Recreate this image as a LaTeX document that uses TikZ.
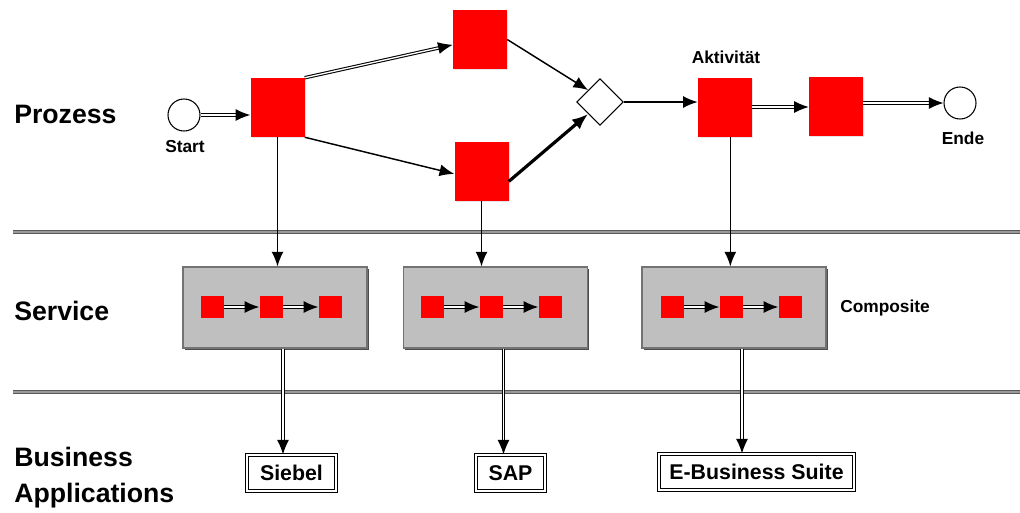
\documentclass[tikz,border=0pt]{standalone}
\usepackage{fontspec}
\setmainfont{Liberation Sans}
\usetikzlibrary{arrows.meta,shapes.geometric,shadows}

\tikzset{
  lbl/.style={inner sep=0pt, font=\fontsize{20}{27}\selectfont\bfseries},
  small/.style={inner sep=0pt, font=\fontsize{13}{15}\selectfont\bfseries},
  task/.style={fill=red, inner sep=0pt, minimum width=40.5pt, minimum height=44.25pt,
    drop shadow={shadow xshift=0.8pt, shadow yshift=-0.8pt, fill=black!20}},
  sq/.style={fill=red, inner sep=0pt, minimum width=17.25pt, minimum height=16.5pt},
  event/.style={circle, draw, line width=0.8pt, fill=white, minimum size=24pt, inner sep=0pt},
  gate/.style={diamond, draw, line width=0.8pt, fill=white, aspect=1, minimum size=35pt, inner sep=0pt},
  svc/.style={fill=black!25, draw=black!55, line width=0.8pt, minimum width=138pt, minimum height=60.75pt,
    drop shadow={shadow xshift=1.2pt, shadow yshift=-1.2pt, fill=black!70, opacity=1}},
  app/.style={draw, double, double distance=1.2pt, line width=0.8pt, fill=white, minimum height=27pt,
    inner sep=0pt, font=\fontsize{16}{18}\selectfont\bfseries},
  lane/.style={draw=black!65, double=black!40, double distance=1.2pt, line width=0.8pt},
  flow/.style={-{Latex[length=11pt,width=9pt]}, line width=1.1pt},
  dflow/.style={-{Latex[length=11pt,width=9pt]}, double, double distance=1pt, line width=0.8pt},
}

\begin{document}
\begin{tikzpicture}[x=0.75pt,y=0.75pt,yscale=-1,xscale=1]
\useasboundingbox (0,0) rectangle (1020,512);

\draw[lane] (13,232) -- (1020,232);
\draw[lane] (13,392) -- (1020,392);

\node[lbl, anchor=west] (prozess) at (14,114) {Prozess};
\node[lbl, anchor=west] (service) at (14,311) {Service};
\node[lbl, anchor=west, align=left] (business) at (14,478) {Business\\Applications};

% prozess
\node[event] (start) at (184,115) {};
\node[small] (startlbl) at (185,147) {Start};
\node[task] (a1) at (277.5,107.5) {};
\node[task] (a2) at (480,39.5) {};
\node[task] (a3) at (481.5,171.5) {};
\node[gate] (gw) at (600,102) {};
\node[task] (akt) at (725,107) {};
\node[small] (aktlbl) at (726,57) {Aktivität};
\node[task] (a5) at (836,106.5) {};
\node[event] (ende) at (960,103) {};
\node[small] (endelbl) at (963,138) {Ende};

\draw[dflow] (start.east) -- (start.east -| a1.west);
\draw[dflow] (a1.north east) -- (a2.191);
\draw[flow] (a1.south east) -- (a3.185);
\draw[flow] (a2.east) -- (gw.north west);
\draw[-{Latex[length=12pt,width=9.5pt]}, line width=2.4pt] (a3.340) -- (gw.south west);
\draw[flow] (gw.east) -- (gw.east -| akt.west);
\draw[dflow] (akt.east) -- (akt.east -| a5.west);
\draw[dflow] (a5.east |- ende.west) -- (ende.west);

% service
\node[svc] (svcA) at (275,307.5) {};
\node[svc] (svcB) at (495.5,307.5) {};
\node[svc] (svcC) at (734,307.5) {};
\node[small, anchor=west] (comp) at (840,308) {Composite};

\foreach \s/\x in {A/212,B/432,C/672}{
  \node[sq] (\s1) at (\x,307) {};
  \node[sq] (\s2) at (\x+59,307) {};
  \node[sq] (\s3) at (\x+118,307) {};
  \draw[dflow] (\s1) -- (\s2);
  \draw[dflow] (\s2) -- (\s3);
}

\draw[flow] (a1.south) -- (a1.south |- svcA.north);
\draw[flow] (a3.south) -- (a3.south |- svcB.north);
\draw[flow] ([xshift=4pt]akt.south) -- ([xshift=4pt]akt.south |- svcC.north);

% applications
\node[app, minimum width=66.75pt] (sieb) at (291.5,473) {Siebel};
\node[app, minimum width=51.75pt] (sap) at (510.5,473) {SAP};
\node[app, minimum width=146pt] (ebs) at (756.5,472) {E-Business Suite};

\draw[dflow] ([xshift=6pt]svcA.south) -- ([xshift=6pt]svcA.south |- sieb.north);
\draw[dflow] ([xshift=6pt]svcB.south) -- ([xshift=6pt]svcB.south |- sap.north);
\draw[dflow] ([xshift=6pt]svcC.south) -- ([xshift=6pt]svcC.south |- ebs.north);
\end{tikzpicture}
\end{document}
